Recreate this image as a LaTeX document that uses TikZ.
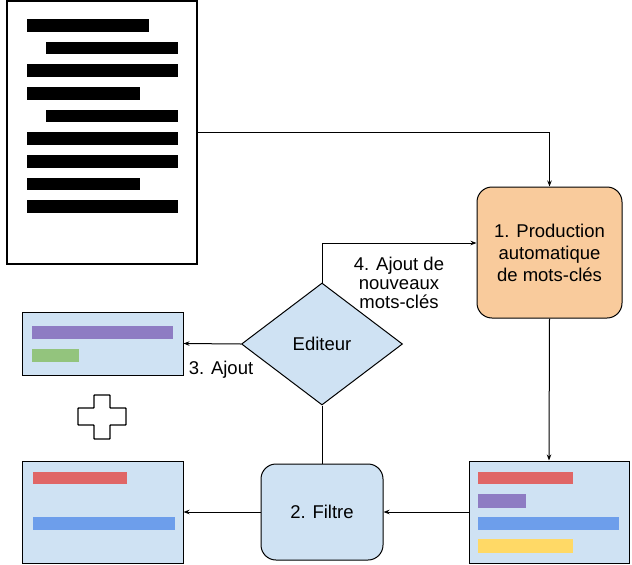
\documentclass[tikz,border=0pt]{standalone}
\usepackage{fontspec}
\setmainfont{Liberation Sans}
\usetikzlibrary{shapes.geometric, arrows.meta}
\definecolor{boxblue}{HTML}{CFE2F3}
\definecolor{boxorange}{HTML}{F9CB9C}
\definecolor{barred}{HTML}{E06666}
\definecolor{barpurple}{HTML}{8E7CC3}
\definecolor{bargreen}{HTML}{93C47D}
\definecolor{barblue}{HTML}{6D9EEB}
\definecolor{baryellow}{HTML}{FFD966}

\begin{document}
\begin{tikzpicture}[
    x=1pt,y=-1pt,
    font=\fontsize{18.5}{22}\selectfont,
    list/.style={draw, fill=boxblue, line width=1pt, inner sep=0pt},
    stage/.style={draw, rounded corners=15pt, line width=1pt, inner sep=0pt, align=center},
    link/.style={line width=1pt, -{Stealth[length=6pt,width=4.5pt]}}
    ]
    \useasboundingbox (0,0) rectangle (632,565);
    \node[draw, line width=1.5pt, minimum width=190pt, minimum height=263pt] (doc) at (102,132.5) {};
    \fill (27,19) rectangle (149,32);
    \fill (46,42) rectangle (178,54);
    \fill (27,64) rectangle (178,77);
    \fill (27,87) rectangle (140,100);
    \fill (46,110) rectangle (178,122);
    \fill (27,132) rectangle (178,145);
    \fill (27,155) rectangle (178,168);
    \fill (27,178) rectangle (140,190);
    \fill (27,200) rectangle (178,213);
    \node[stage, fill=boxorange, minimum width=145pt, minimum height=131pt] (prod) at (549.5,252.5) {1. Production\\automatique\\de mots-clés};
    \node[diamond, draw, fill=boxblue, line width=1pt, inner sep=0pt, minimum width=161pt, minimum height=122pt] (edit) at (322,344) {Editeur};
    \node[stage, fill=boxblue, minimum width=122pt, minimum height=96pt] (filt) at (322,512) {2. Filtre};
    \node[list, minimum width=161pt, minimum height=63pt] (kwadd) at (102.5,343.5) {};
    \node[list, minimum width=161pt, minimum height=102pt] (kwfinal) at (102.5,512) {};
    \node[list, minimum width=160pt, minimum height=102pt] (kwauto) at (549,512) {};
    \fill[barpurple] (32,326) rectangle (173,339);
    \fill[bargreen] (32,349) rectangle (79,362);
    \fill[barred] (33,472) rectangle (127,484);
    \fill[barblue] (33,517) rectangle (175,530);
    \fill[barred] (478,472) rectangle (573,484);
    \fill[barpurple] (478,494) rectangle (526,508);
    \fill[barblue] (478,517) rectangle (619,530);
    \fill[baryellow] (478,539) rectangle (573,553);
    \draw[line width=1.3pt, rounded corners=0.6pt] (94,395) -- (110,395) -- (110,408) -- (126,408) -- (126,425) -- (110,425) -- (110,439) -- (94,439) -- (94,425) -- (78,425) -- (78,408) -- (94,408) -- cycle;
    \node (lbladd) at (221,370) {3. Ajout};
    \node[align=center, font=\fontsize{18.5}{19}\selectfont] (lblnew) at (399,283) {4. Ajout de\\nouveaux\\mots-clés};
    \draw[link] (doc.east) -| (prod.north);
    \draw[link] (edit.north) |- ([yshift=9.5pt]prod.west);
    \draw[link] (prod.south) -- (kwauto.north);
    \draw[link] (kwauto.west) -- (filt.east);
    \draw[link] (filt.west) -- (kwfinal.east);
    \draw[link] (edit.west) -- (kwadd.east);
    \draw[line width=1pt] (edit.south) -- (filt.north);
\end{tikzpicture}
\end{document}
